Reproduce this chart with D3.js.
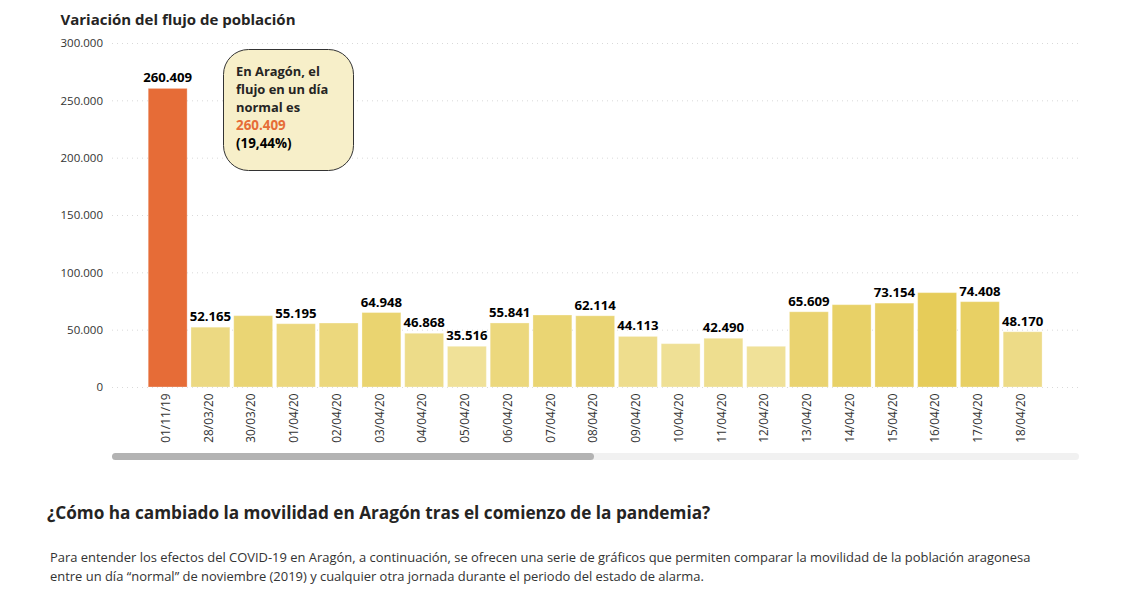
<!DOCTYPE html>
<html>
<head>
<meta charset="utf-8">
<script src="https://cdn.jsdelivr.net/npm/d3@7"></script>
<style>
html,body{margin:0;padding:0;background:#fff;overflow:hidden}
text{font-family:"Open Sans","Noto Sans",sans-serif}
</style>
</head>
<body>
<svg id="chart" width="1135" height="609"></svg>
<script>
var dates = ["01/11/19","28/03/20","30/03/20","01/04/20","02/04/20","03/04/20","04/04/20","05/04/20","06/04/20","07/04/20","08/04/20","09/04/20","10/04/20","11/04/20","12/04/20","13/04/20","14/04/20","15/04/20","16/04/20","17/04/20","18/04/20"];
var values = [260409,52165,62200,55195,55800,64948,46868,35516,55841,62800,62114,44113,37800,42490,35500,65609,71800,73154,82300,74408,48170];
// las barras sin etiqueta en el original
var sinEtiqueta = ["30/03/20","02/04/20","07/04/20","10/04/20","12/04/20","14/04/20","16/04/20"];
var yTicks = [0,50000,100000,150000,200000,250000,300000];
var calloutLines = ["En Aragón, el","flujo en un día","normal es","260.409","(19,44%)"];
var parrafo = ["Para entender los efectos del COVID-19 en Aragón, a continuación, se ofrecen una serie de gráficos que permiten comparar la movilidad de la población aragonesa",
  "entre un día “normal” de noviembre (2019) y cualquier otra jornada durante el periodo del estado de alarma."];

var svg = d3.select("#chart");
var es = d3.formatLocale({decimal:",",thousands:".",grouping:[3],currency:["","€"]});
var fmt = es.format(",d");

var x = d3.scaleBand().domain(dates).range([146.3,1044]).paddingInner(0.09).paddingOuter(0.045);
var y = d3.scaleLinear().domain([0,300000]).range([387,43]);
var color = d3.scaleLinear().domain([35000,82300]).range(["#f0e199","#e6cc59"]);

svg.append("text").attr("x",60.5).attr("y",24.5).attr("font-size",15).attr("font-weight",700).attr("fill","#252423").text("Variación del flujo de población");

// rejilla punteada
svg.append("g").selectAll("line").data(yTicks).join("line")
  .attr("x1",112).attr("x2",1080)
  .attr("y1",function(d){return y(d)+0.5}).attr("y2",function(d){return y(d)+0.5})
  .attr("stroke","#d9d9d9").attr("stroke-dasharray","1,4");

// eje y
var gy = svg.append("g").attr("transform","translate(106,0)")
  .call(d3.axisLeft(y).tickValues(yTicks).tickSize(0).tickPadding(3).tickFormat(fmt));
gy.select(".domain").remove();
gy.selectAll("text").attr("font-size",11.5).attr("fill","#333").style("font-family",'"Open Sans",sans-serif');

// eje x
var gx = svg.append("g").attr("transform","translate(0,387)")
  .call(d3.axisBottom(x).tickSize(0));
gx.select(".domain").remove();
gx.selectAll("text").attr("transform","rotate(-90)").attr("text-anchor","end")
  .attr("x",-6.5).attr("y",-2).attr("dy","0.35em")
  .attr("font-size",11.8).attr("fill","#333").style("font-family",'"Open Sans",sans-serif');

// barras
svg.append("g").selectAll("rect").data(dates).join("rect")
  .attr("x",function(d){return x(d)})
  .attr("width",x.bandwidth())
  .attr("y",function(d,i){return y(values[i])})
  .attr("height",function(d,i){return y(0)-y(values[i])})
  .attr("fill",function(d,i){return i==0 ? "#e66c37" : color(values[i])})
  .attr("stroke","#fff").attr("stroke-opacity",0.3).attr("stroke-width",1);

// etiquetas
svg.append("g").selectAll("text").data(dates.filter(function(d){return sinEtiqueta.indexOf(d)<0})).join("text")
  .attr("x",function(d){return x(d)+x.bandwidth()/2})
  .attr("y",function(d){return y(values[dates.indexOf(d)])-6})
  .attr("text-anchor","middle").attr("font-size",13.2).attr("font-weight",700).attr("fill","#000")
  .text(function(d){return fmt(values[dates.indexOf(d)])});

// scrollbar
svg.append("rect").attr("x",112).attr("y",453).attr("width",967).attr("height",7).attr("rx",3.5).attr("fill","#f1f1f1");
svg.append("rect").attr("x",112).attr("y",453).attr("width",482).attr("height",7).attr("rx",3.5).attr("fill","#b3b3b3");

// globo
svg.append("rect").attr("x",223.5).attr("y",49.5).attr("width",130).attr("height",121).attr("rx",25)
  .attr("fill","#f7efc9").attr("stroke","#333");
svg.append("g").selectAll("text").data(calloutLines).join("text")
  .attr("x",236).attr("y",function(d,i){return 76+i*18})
  .attr("font-size",function(d,i){return i>2 ? 13.4 : 12.9}).attr("font-weight",700)
  .attr("fill",function(d,i){return i==3 ? "#e66c37" : (i==4 ? "#000" : "#252423")})
  .text(function(d){return d});

svg.append("text").attr("x",47).attr("y",519).attr("font-size",17.2).attr("font-weight",700).attr("fill","#252423")
  .text("¿Cómo ha cambiado la movilidad en Aragón tras el comienzo de la pandemia?");
svg.append("g").selectAll("text").data(parrafo).join("text")
  .attr("x",50).attr("y",function(d,i){return 562+i*19})
  .attr("font-size",12.94).attr("fill","#333")
  .text(function(d){return d});
</script>
</body>
</html>
